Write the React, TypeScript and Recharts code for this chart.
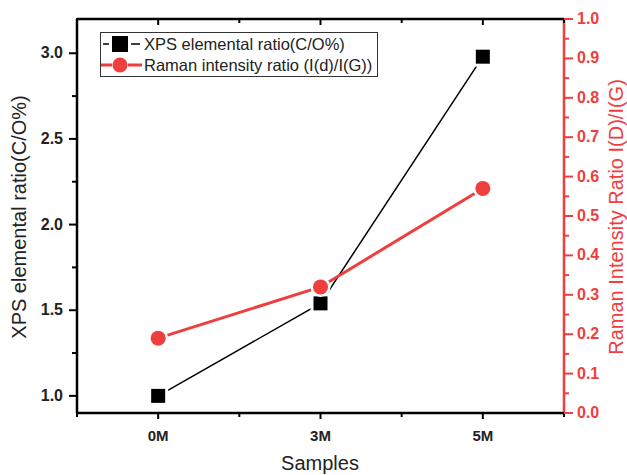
import { LineChart, Line, XAxis, YAxis, Legend } from 'recharts'

const categories = ['0M', '3M', '5M']
const xpsRatio = [1.0, 1.54, 2.98]
const ramanRatio = [0.19, 0.32, 0.57]

const xDomain = [-0.5, 2.5]
const leftDomain = [0.9, 3.2]
const rightDomain = [0, 1]
const xTicks = [-0.5, 0, 0.5, 1, 1.5, 2, 2.5]
const leftTicks = [1.0, 1.25, 1.5, 1.75, 2.0, 2.25, 2.5, 2.75, 3.0]
const rightTicks = [
  0, 0.05, 0.1, 0.15, 0.2, 0.25, 0.3, 0.35, 0.4, 0.45, 0.5,
  0.55, 0.6, 0.65, 0.7, 0.75, 0.8, 0.85, 0.9, 0.95, 1.0,
]

const data = categories.map((c, i) => ({ x: i, name: c, xps: xpsRatio[i], raman: ramanRatio[i] }))

const W = 627
const H = 475
const LEFT_W = 77
const RIGHT_W = 63
const BOTTOM_H = 62
const TOP = 19

const FONT = 'Liberation Sans, Arial, sans-serif'
const RED = '#ef3e3e'
const INK = '#222'

const BottomTick = (props: any) => {
  const { x, y, payload } = props
  const major = Number.isInteger(payload.value)
  return (
    <g>
      <line x1={x} x2={x} y1={y} y2={y + (major ? 6 : 4)} stroke="#000" strokeWidth={2} />
      {major && (
        <text x={x} y={y + 28} textAnchor="middle" fontFamily={FONT} fontWeight="bold" fontSize={15} fill={INK}>
          {categories[payload.value]}
        </text>
      )}
    </g>
  )
}

const TopTick = (props: any) => {
  const { x, y, payload } = props
  const major = Number.isInteger(payload.value)
  return <line x1={x} x2={x} y1={y} y2={y + (major ? 6 : 4)} stroke="#000" strokeWidth={2} />
}

const LeftTick = (props: any) => {
  const { x, y, payload } = props
  const major = Number.isInteger(payload.value * 2)
  return (
    <g>
      <line x1={x} x2={x - (major ? 8 : 5)} y1={y} y2={y} stroke="#000" strokeWidth={2} />
      {major && (
        <text x={x - 14} y={y + 5} textAnchor="end" fontFamily={FONT} fontWeight="bold" fontSize={16} fill={INK}>
          {payload.value.toFixed(1)}
        </text>
      )}
    </g>
  )
}

const RightTick = (props: any) => {
  const { x, y, payload } = props
  const major = Math.round(payload.value * 100) % 10 === 0
  return (
    <g>
      <line x1={x} x2={x + (major ? 9 : 5)} y1={y} y2={y} stroke={RED} strokeWidth={2} />
      {major && (
        <text x={x + 13} y={y + 5} textAnchor="start" fontFamily={FONT} fontWeight="bold" fontSize={16} fill={RED}>
          {payload.value.toFixed(1)}
        </text>
      )}
    </g>
  )
}

const SquareDot = (props: any) => {
  const { cx, cy, index } = props
  if (cx == null || cy == null) return <g key={`s${index}`} />
  return (
    <g key={`s${index}`}>
      <rect x={cx - 10} y={cy - 10} width={20} height={20} fill="#fff" />
      <rect x={cx - 7} y={cy - 7} width={14} height={14} fill="#000" />
    </g>
  )
}

const CircleDot = (props: any) => {
  const { cx, cy, index } = props
  if (cx == null || cy == null) return <g key={`c${index}`} />
  return (
    <g key={`c${index}`}>
      <circle cx={cx} cy={cy} r={10} fill="#fff" />
      <circle cx={cx} cy={cy} r={7.5} fill={RED} />
    </g>
  )
}

const LegendBox = () => (
  <svg width={278} height={45} style={{ display: 'block' }}>
    <rect x={0.5} y={0.5} width={277} height={44} fill="#fff" stroke="#333" />
    <line x1={3} x2={9} y1={12} y2={12} stroke="#000" strokeWidth={1.5} />
    <line x1={31} x2={40} y1={12} y2={12} stroke="#000" strokeWidth={1.5} />
    <rect x={12} y={4} width={16} height={16} fill="#000" />
    <text x={44} y={18} fontFamily={FONT} fontSize={16.5} fill={INK}>XPS elemental ratio(C/O%)</text>
    <line x1={1} x2={42} y1={33} y2={33} stroke={RED} strokeWidth={3} />
    <circle cx={20} cy={33} r={8} fill="#fff" />
    <circle cx={20} cy={33} r={7.5} fill={RED} />
    <text x={44} y={39} fontFamily={FONT} fontSize={16.5} fill={INK}>Raman intensity ratio (I(d)/I(G))</text>
  </svg>
)

export default function App() {
  const plotRight = W - RIGHT_W
  const plotBottom = H - BOTTOM_H
  return (
    <div style={{ position: 'absolute', left: 0, top: 0, width: W, height: H, background: '#fff' }}>
      <LineChart width={W} height={H} data={data} margin={{ top: TOP - 1, right: 0, bottom: 0, left: 0 }}>
        <XAxis
          xAxisId="bottom"
          dataKey="x"
          type="number"
          domain={xDomain}
          ticks={xTicks}
          interval={0}
          height={BOTTOM_H}
          tickSize={0}
          tickMargin={0}
          tickLine={false}
          tick={<BottomTick />}
          stroke="#000"
          axisLine={{ stroke: '#000', strokeWidth: 2.5 }}
        />
        <XAxis
          xAxisId="top"
          orientation="top"
          dataKey="x"
          type="number"
          domain={xDomain}
          ticks={xTicks}
          interval={0}
          height={1}
          tickSize={0}
          tickMargin={0}
          tickLine={false}
          tick={<TopTick />}
          stroke="#000"
          axisLine={{ stroke: '#000', strokeWidth: 2.5 }}
        />
        <YAxis
          yAxisId="left"
          type="number"
          domain={leftDomain}
          ticks={leftTicks}
          interval={0}
          width={LEFT_W}
          tickSize={0}
          tickMargin={0}
          tickLine={false}
          tick={<LeftTick />}
          stroke="#000"
          axisLine={{ stroke: '#000', strokeWidth: 2.5 }}
        />
        <YAxis
          yAxisId="right"
          orientation="right"
          type="number"
          domain={rightDomain}
          ticks={rightTicks}
          interval={0}
          width={RIGHT_W}
          tickSize={0}
          tickMargin={0}
          tickLine={false}
          tick={<RightTick />}
          stroke={RED}
          axisLine={{ stroke: RED, strokeWidth: 2.5 }}
        />
        <Legend
          layout="horizontal"
          verticalAlign="middle"
          content={<LegendBox />}
          wrapperStyle={{ left: 100, top: 32, width: 278, height: 45 }}
        />
        <Line
          xAxisId="bottom"
          yAxisId="left"
          dataKey="xps"
          stroke="#000"
          strokeWidth={1.5}
          dot={SquareDot}
          isAnimationActive={false}
        />
        <Line
          xAxisId="bottom"
          yAxisId="right"
          dataKey="raman"
          stroke={RED}
          strokeWidth={3}
          dot={CircleDot}
          isAnimationActive={false}
        />
      </LineChart>
      <svg width={W} height={H} style={{ position: 'absolute', left: 0, top: 0, pointerEvents: 'none' }}>
        {/* plot frame, same edges as the chart margins */}
        <polyline
          points={`${plotRight},${TOP} ${LEFT_W},${TOP} ${LEFT_W},${plotBottom} ${plotRight},${plotBottom}`}
          fill="none"
          stroke="#000"
          strokeWidth={2}
        />
        <text
          x={19}
          y={217}
          transform="rotate(-90, 19, 217)"
          textAnchor="middle"
          dominantBaseline="central"
          fontFamily={FONT}
          fontSize={20}
          fill={INK}
        >
          XPS elemental ratio(C/O%)
        </text>
        <text
          x={616}
          y={217}
          transform="rotate(-90, 616, 217)"
          textAnchor="middle"
          dominantBaseline="central"
          fontFamily={FONT}
          fontSize={20}
          fill={RED}
        >
          Raman Intensity Ratio I(D)/I(G)
        </text>
        <text x={320} y={470} textAnchor="middle" fontFamily={FONT} fontSize={20} fill={INK}>
          Samples
        </text>
      </svg>
    </div>
  )
}
